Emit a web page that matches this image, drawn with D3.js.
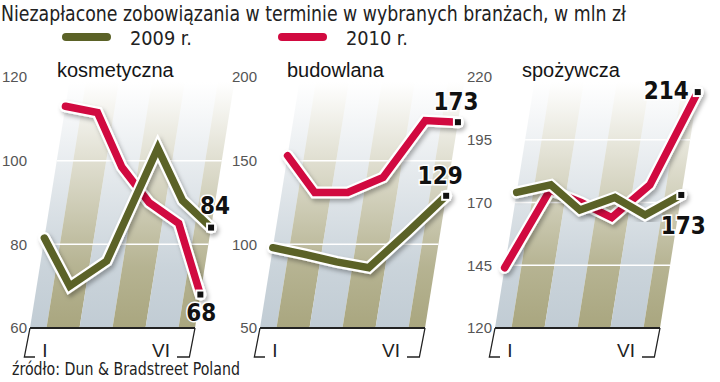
<!DOCTYPE html>
<html>
<head>
<meta charset="utf-8">
<script src="https://cdn.jsdelivr.net/npm/d3@7/dist/d3.min.js"></script>
<style>
  html, body { margin: 0; padding: 0; background: #fff; }
  svg { display: block; }
</style>
</head>
<body>
<svg id="chart" width="720" height="382"></svg>
<script>
// ---------------- DATA ----------------
const title = "Niezapłacone zobowiązania w terminie w wybranych branżach, w mln zł";
const seriesNames = ["2009 r.", "2010 r."];
const source = "źródło: Dun & Bradstreet Poland";
const months = ["I", "II", "III", "IV", "V", "VI"];
const panelNames = ["kosmetyczna", "budowlana", "spożywcza"];

const kosm2009 = [81.5, 70, 76, 103, 90.5, 84];
const kosm2010 = [113, 111.5, 98.5, 90, 85, 68];
const bud2009 = [98, 94, 89.5, 86, 107, 129];
const bud2010 = [153, 131, 131, 140, 174, 173];
const spoz2009 = [174, 177, 167, 172, 165, 173];
const spoz2010 = [144, 175, 170, 164, 177, 214];

const kosmTicks = [60, 80, 100, 120];
const budTicks = [50, 100, 150, 200];
const spozTicks = [120, 145, 170, 195, 220];

// ---------------- LAYOUT / STYLE ----------------
const colors = { s2009: "#5b6227", s2010: "#d10a40" };
const stripeColors = ["#c1ccd4", "#a9a67f"];
const K = 0.16;             // horizontal skew per pixel of height
const y0 = 328, yTop = 77;
const panelX = [30, 260, 495];
const panelW = 165;

const panels = [
  { name: panelNames[0], d2009: kosm2009, d2010: kosm2010, ticks: kosmTicks,
    lab2009: { dx: 4, dy: -14, anchor: "middle" }, lab2010: { dx: 1, dy: 26, anchor: "middle" } },
  { name: panelNames[1], d2009: bud2009, d2010: bud2010, ticks: budTicks,
    lab2009: { dx: -6, dy: -12, anchor: "middle" }, lab2010: { dx: -2, dy: -12, anchor: "middle" } },
  { name: panelNames[2], d2009: spoz2009, d2010: spoz2010, ticks: spozTicks,
    lab2009: { dx: 2, dy: 39, anchor: "middle" }, lab2010: { dx: -9, dy: 7, anchor: "end" } }
];

const svg = d3.select("#chart");
const defs = svg.append("defs");

// gradients for stripes
stripeColors.forEach((c, i) => {
  const g = defs.append("linearGradient")
    .attr("id", "grad" + i)
    .attr("gradientUnits", "userSpaceOnUse")
    .attr("x1", 0).attr("x2", 0).attr("y1", y0).attr("y2", yTop + 5);
  g.append("stop").attr("offset", 0).attr("stop-color", c).attr("stop-opacity", 1);
  g.append("stop").attr("offset", 0.25).attr("stop-color", c).attr("stop-opacity", 0.85);
  g.append("stop").attr("offset", 1).attr("stop-color", c).attr("stop-opacity", 0);
});
const f = defs.append("filter").attr("id", "shadow")
  .attr("x", "-20%").attr("y", "-20%").attr("width", "140%").attr("height", "140%");
f.append("feDropShadow").attr("dx", 2).attr("dy", 3).attr("stdDeviation", 2)
  .attr("flood-color", "#000").attr("flood-opacity", 0.3);

const narrow = "'Liberation Sans Narrow', 'DejaVu Sans Condensed', 'Liberation Sans', sans-serif";
const sans = "'Liberation Sans', Arial, sans-serif";

// Title
svg.append("text")
  .attr("x", 1).attr("y", 21)
  .attr("font-family", narrow).attr("font-size", 20.5).attr("fill", "#222")
  .attr("textLength", 625).attr("lengthAdjust", "spacingAndGlyphs")
  .text(title);

// Legend
const legend = [
  { name: seriesNames[0], color: colors.s2009, x: 62, tx: 130, tw: 62 },
  { name: seriesNames[1], color: colors.s2010, x: 278, tx: 346, tw: 62 }
];
legend.forEach(l => {
  svg.append("rect").attr("x", l.x).attr("y", 33).attr("width", 49).attr("height", 8)
    .attr("rx", 4).attr("fill", l.color);
  svg.append("text").attr("x", l.tx).attr("y", 45)
    .attr("font-family", narrow).attr("font-size", 19).attr("fill", "#222")
    .attr("textLength", l.tw).attr("lengthAdjust", "spacingAndGlyphs")
    .text(l.name);
});

// Source
svg.append("text").attr("x", 12).attr("y", 375)
  .attr("font-family", narrow).attr("font-size", 17).attr("fill", "#222")
  .attr("textLength", 228).attr("lengthAdjust", "spacingAndGlyphs")
  .text(source);

panels.forEach((p, pi) => {
  const x0 = panelX[pi], x1 = x0 + panelW;
  const g = svg.append("g");
  const xs = d3.scalePoint().domain(months).range([x0, x1]);
  const step = xs.step();
  const ys = d3.scaleLinear().domain(d3.extent(p.ticks)).range([y0, yTop]);
  const sk = y => K * (y0 - y);
  const H = y0 - yTop;

  // clip parallelogram
  const clipId = "clip" + pi;
  defs.append("clipPath").attr("id", clipId).append("polygon")
    .attr("points", [[x0, y0], [x1, y0], [x1 + K * H, yTop], [x0 + K * H, yTop]].map(d => d.join(",")).join(" "));

  const bg = g.append("g").attr("clip-path", `url(#${clipId})`);
  bg.selectAll("polygon.stripe").data(months).join("polygon")
    .attr("class", "stripe")
    .attr("points", (m, i) => {
      const a = xs(m) - step / 2, b = xs(m) + step / 2;
      return [[a, y0], [b, y0], [b + K * H, yTop], [a + K * H, yTop]].map(d => d.join(",")).join(" ");
    })
    .attr("fill", (m, i) => `url(#grad${i % 2})`);

  // gridlines (internal ticks)
  const inner = p.ticks.slice(1, -1);
  g.selectAll("line.grid").data(inner).join("line")
    .attr("x1", v => x0 + sk(ys(v))).attr("x2", v => x1 + sk(ys(v)))
    .attr("y1", v => ys(v)).attr("y2", v => ys(v))
    .attr("stroke", "#fff").attr("stroke-width", 1.5);

  // y tick labels
  g.selectAll("text.ytick").data(p.ticks).join("text")
    .attr("x", x0 - 3).attr("y", v => ys(v)).attr("dy", "0.35em")
    .attr("text-anchor", "end")
    .attr("font-family", sans).attr("font-size", 15).attr("fill", "#555")
    .text(v => v);

  // axis line
  g.append("line").attr("x1", x0).attr("x2", x1).attr("y1", y0).attr("y2", y0)
    .attr("stroke", "#222").attr("stroke-width", 2);

  // brackets
  const by = 357, bd = K * (by - y0) + 1;
  g.append("path")
    .attr("d", `M${x0},${y0} L${x0 - bd},${by} L${x0 + 5},${by}`)
    .attr("fill", "none").attr("stroke", "#222").attr("stroke-width", 1.3);
  g.append("path")
    .attr("d", `M${x1 - 18},${by} L${x1 - bd},${by} L${x1},${y0}`)
    .attr("fill", "none").attr("stroke", "#222").attr("stroke-width", 1.3);
  const xl = [{ m: months[0], dx: 15 }, { m: months[5], dx: -34 }];
  g.selectAll("text.xtick").data(xl).join("text")
    .attr("x", d => xs(d.m) + d.dx).attr("y", by)
    .attr("text-anchor", "middle")
    .attr("font-family", sans).attr("font-size", 19).attr("fill", "#222")
    .text(d => d.m);

  // panel title
  g.append("text").attr("x", x0 + 27).attr("y", 77)
    .attr("font-family", sans).attr("font-size", 20).attr("fill", "#151515")
    .text(p.name);

  // lines
  const pts = data => data.map((v, i) => [xs(months[i]) + sk(ys(v)), ys(v)]);
  const line = d3.line();
  const series = [
    { data: p.d2010, color: colors.s2010, lab: p.lab2010 },
    { data: p.d2009, color: colors.s2009, lab: p.lab2009 }
  ];
  series.forEach(s => {
    const pp = pts(s.data);
    const sg = g.append("g");
    sg.append("path").attr("d", line(pp))
      .attr("fill", "none").attr("stroke", "#fff").attr("stroke-width", 12)
      .attr("stroke-linejoin", "miter").attr("stroke-linecap", "round")
      .attr("filter", "url(#shadow)");
    sg.append("path").attr("d", line(pp))
      .attr("fill", "none").attr("stroke", s.color).attr("stroke-width", 7.5)
      .attr("stroke-linejoin", "miter").attr("stroke-linecap", "round");
    const last = pp[pp.length - 1];
    sg.append("rect").attr("x", last[0] - 4).attr("y", last[1] - 4)
      .attr("width", 8).attr("height", 8)
      .attr("fill", "#111").attr("stroke", "#fff").attr("stroke-width", 2);
    s.lastPt = last;
  });
  series.forEach(s => {
    g.append("text")
      .attr("x", s.lastPt[0] + s.lab.dx).attr("y", s.lastPt[1] + s.lab.dy)
      .attr("text-anchor", s.lab.anchor)
      .attr("font-family", narrow).attr("font-weight", "bold")
      .attr("font-size", 24).attr("fill", "#111")
      .attr("stroke", "#fff").attr("stroke-width", 3).attr("paint-order", "stroke")
      .text(s.data[s.data.length - 1]);
  });
});
</script>
</body>
</html>
